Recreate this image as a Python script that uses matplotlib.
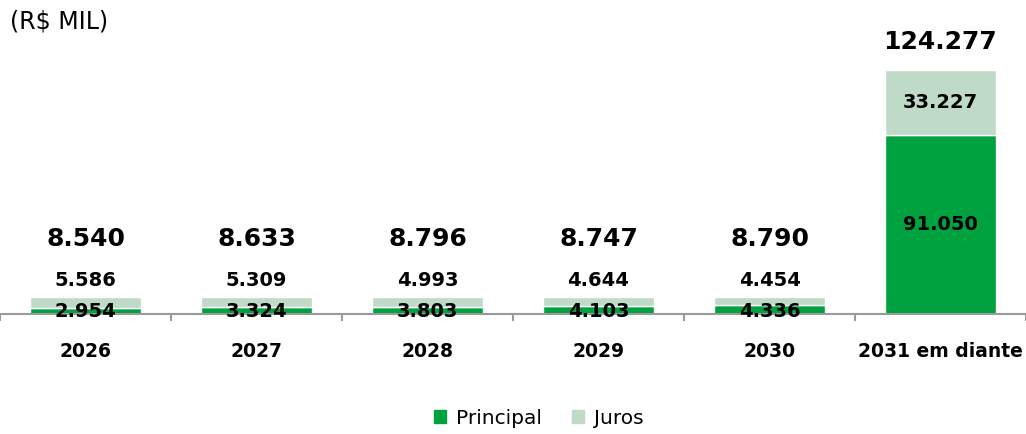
import numpy as np
import matplotlib.pyplot as plt
from matplotlib.patches import Patch

# ---------- data ----------
categories = ["2026", "2027", "2028", "2029", "2030", "2031 em diante"]
principal = [2954, 3324, 3803, 4103, 4336, 91050]
juros = [5586, 5309, 4993, 4644, 4454, 33227]
totals = [8540, 8633, 8796, 8747, 8790, 124277]

GREEN = "#00A13F"
LIGHT = "#BFDBC8"
AXIS_GRAY = "#9a9a9a"


def fmt(v):
    return f"{v:,}".replace(",", ".")


fig = plt.figure(figsize=(10.26, 4.34), dpi=100)
ax = fig.add_axes([0, 120 / 434, 1, 314 / 434])

x = np.arange(len(categories))
width = 0.65
ax.bar(x, principal, width, color=GREEN, edgecolor="white", linewidth=1, zorder=2)
ax.bar(x, juros, width, bottom=principal, color=LIGHT, edgecolor="white", linewidth=1, zorder=2)

ax.set_xlim(-0.5, len(categories) - 0.5)
ax.set_ylim(0, 160000)

# axis styling
for s in ["top", "right", "left"]:
    ax.spines[s].set_visible(False)
ax.spines["bottom"].set_color(AXIS_GRAY)
ax.spines["bottom"].set_linewidth(1.5)
ax.set_yticks([])
ax.set_xticks(x)
ax.set_xticklabels(categories, fontsize=13.5, fontweight="bold")
ax.tick_params(axis="x", which="major", length=0, pad=20)
ax.set_xticks(np.arange(len(categories) + 1) - 0.5, minor=True)
ax.tick_params(axis="x", which="minor", length=5, width=1.5, color=AXIS_GRAY, direction="out")

# value labels
for i in range(len(categories)):
    if principal[i] > 20000:
        # big bar: labels inside segments, total above
        ax.text(x[i], principal[i] / 2, fmt(principal[i]), ha="center", va="center",
                fontsize=14, fontweight="bold", zorder=3)
        ax.text(x[i], principal[i] + juros[i] / 2, fmt(juros[i]), ha="center", va="center",
                fontsize=14, fontweight="bold", zorder=3)
        ax.annotate(fmt(totals[i]), (x[i], totals[i]), xytext=(0, 20), textcoords="offset points",
                    ha="center", va="center", fontsize=18, fontweight="bold")
    else:
        ax.annotate(fmt(principal[i]), (x[i], 0), xytext=(0, 1.5), textcoords="offset points",
                    ha="center", va="center", fontsize=14, fontweight="bold", zorder=3)
        ax.annotate(fmt(juros[i]), (x[i], 0), xytext=(0, 24), textcoords="offset points",
                    ha="center", va="center", fontsize=14, fontweight="bold")
        ax.annotate(fmt(totals[i]), (x[i], 0), xytext=(0, 54), textcoords="offset points",
                    ha="center", va="center", fontsize=18, fontweight="bold")

fig.text(10 / 1026, 1 - 21 / 434, "(R$ MIL)", fontsize=17, ha="left", va="center")

handles = [Patch(color=GREEN, label="Principal"), Patch(color=LIGHT, label="Juros")]
fig.legend(handles=handles, loc="center", bbox_to_anchor=(0.525, 1 - 418 / 434), ncol=2,
           frameon=False, fontsize=14.5, handlelength=0.6, handleheight=0.6,
           handletextpad=0.5, columnspacing=1.5)

fig.savefig("out.png", dpi=100)
